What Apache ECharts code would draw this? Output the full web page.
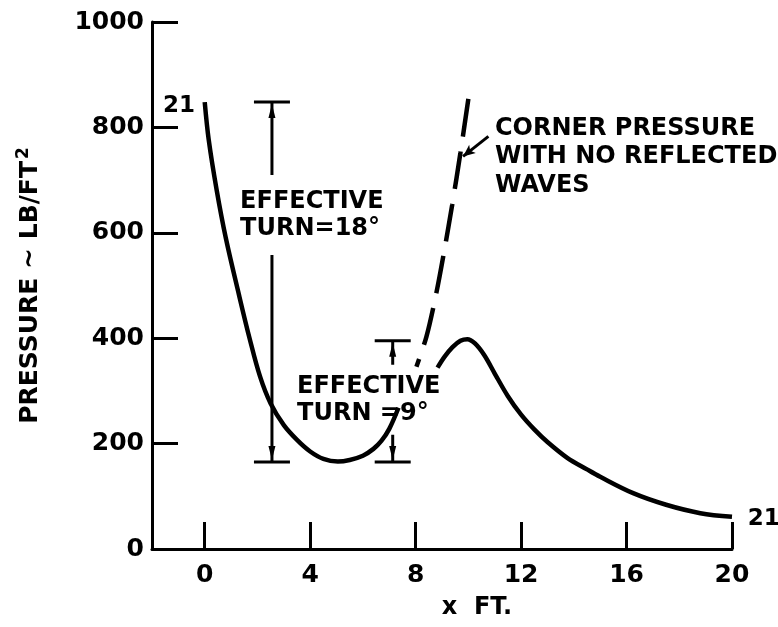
<!DOCTYPE html>
<html>
<head>
<meta charset="utf-8">
<script src="https://cdn.jsdelivr.net/npm/echarts@6/dist/echarts.min.js"></script>
<style>html,body{margin:0;padding:0;background:#fff}#c{width:778px;height:627px}</style>
</head>
<body>
<div id="c"></div>
<script>
// ---- data ----
const xTicks = [0, 4, 8, 12, 16, 20];
const yTicks = [0, 200, 400, 600, 800, 1000];
// measured pressure, first run (x ft, lb/ft^2)
const curveAX = [0, 0.15, 0.45, 0.8, 1.3, 1.7, 2.1, 2.5, 3.0, 3.5, 4.0, 4.5, 5.05, 5.5, 6.0, 6.4, 6.7, 7.0, 7.35];
const curveAY = [848, 777, 682, 590, 482, 400, 327, 276, 235, 207, 185, 171, 166, 169, 177, 190, 205, 228, 268];
// measured pressure, second run
const curveBX = [8.83, 9.1, 9.4, 9.7, 9.96, 10.25, 10.6, 11.0, 11.5, 12.0, 12.5, 13.0, 13.75, 14.5, 15.0, 16.25, 17.5, 18.8, 20];
const curveBY = [344, 365, 383, 395, 398, 390, 368, 333, 290, 255, 227, 203, 173, 151, 137, 106, 84, 68, 61];
// corner pressure with no reflected waves (dashed)
const dashX = [10.0, 9.7, 9.39, 9.1, 8.79, 8.41, 8.03];
const dashY = [854, 752, 654, 570, 487, 403, 346];
// effective turn bars
const barX = [2.55, 7.13];
const barLow = [165, 165];
const barHigh = [848, 395];
const barLabels = ['EFFECTIVE\nTURN=18°', 'EFFECTIVE\nTURN =9°'];
const cornerLabel = 'CORNER PRESSURE\nWITH NO REFLECTED\nWAVES';
const endLabels = ['21', '21'];
const xTitle = 'x  FT.';
const yTitle = 'PRESSURE ~ LB/FT{sup|2}';

// ---- chart ----
const FONT = 'DejaVu Sans';
const pairs = (xs, ys) => xs.map((x, i) => [x, ys[i]]);
const txt = {color: '#000', fontFamily: FONT, fontWeight: 'bold'};
const lbl = (o) => Object.assign({color: '#000', fontFamily: FONT, fontWeight: 'bold', opacity: 1}, o);

const chart = echarts.init(document.getElementById('c'), null, {renderer: 'canvas'});
const option = {
  animation: false,
  backgroundColor: '#fff',
  grid: {left: 152, right: 46, top: 22, bottom: 78},
  xAxis: {
    type: 'value', min: -2, max: 20, interval: 2,
    name: xTitle, nameLocation: 'middle', nameGap: 47,
    nameTextStyle: Object.assign({fontSize: 24, padding: [0, 0, 0, 70]}, txt),
    axisLine: {onZero: false, lineStyle: {color: '#000', width: 3}},
    axisTick: {show: true, inside: true, length: 27, customValues: xTicks, lineStyle: {color: '#000', width: 3}},
    axisLabel: Object.assign({fontSize: 25, margin: 14, customValues: xTicks}, txt),
    splitLine: {show: false}
  },
  yAxis: {
    type: 'value', min: 0, max: 1000, interval: 200,
    name: yTitle, nameLocation: 'middle', nameGap: 107,
    nameTextStyle: Object.assign({fontSize: 25, lineHeight: 30,
      rich: {sup: {fontSize: 17, fontFamily: FONT, fontWeight: 'bold', color: '#000', verticalAlign: 'top', lineHeight: 30, padding: [0, 0, 12, 2]}}}, txt),
    axisLine: {show: true, onZero: false, lineStyle: {color: '#000', width: 3}},
    axisTick: {show: true, inside: true, length: 26, customValues: yTicks.slice(1), lineStyle: {color: '#000', width: 3}},
    axisLabel: Object.assign({fontSize: 25, margin: 8, customValues: yTicks, formatter: (v) => String(v)}, txt),
    splitLine: {show: false}
  },
  series: [
    {
      type: 'custom', z: 2,
      data: barX.map((x, i) => [x, barLow[i], barHigh[i]]),
      renderItem: function (params, api) {
        const x = api.value(0), lo = api.value(1), hi = api.value(2);
        const a = api.coord([x, lo]), b = api.coord([x, hi]);
        const hw = 18;
        const st = {stroke: '#000', lineWidth: 3};
        return {type: 'group', children: [
          {type: 'line', shape: {x1: a[0], y1: a[1], x2: b[0], y2: b[1]}, style: st},
          {type: 'line', shape: {x1: a[0] - hw, y1: a[1], x2: a[0] + hw, y2: a[1]}, style: st},
          {type: 'line', shape: {x1: b[0] - hw, y1: b[1], x2: b[0] + hw, y2: b[1]}, style: st},
          {type: 'polygon', shape: {points: [[b[0], b[1] + 2], [b[0] - 3.5, b[1] + 16], [b[0] + 3.5, b[1] + 16]]}, style: {fill: '#000'}},
          {type: 'polygon', shape: {points: [[a[0], a[1] - 2], [a[0] - 3.5, a[1] - 16], [a[0] + 3.5, a[1] - 16]]}, style: {fill: '#000'}}
        ]};
      }
    },
    {
      type: 'scatter', z: 3, symbolSize: 1, clip: false,
      itemStyle: {color: 'transparent', opacity: 1},
      label: lbl({show: true, position: 'inside', align: 'left', verticalAlign: 'middle', fontSize: 24, lineHeight: 27,
        backgroundColor: '#fff'}),
      data: [
        {value: [1.19, 634], label: lbl({formatter: barLabels[0], padding: [14, 4, 12, 4], backgroundColor: '#fff'})},
        {value: [3.35, 283], label: lbl({formatter: barLabels[1], padding: [7, 4, 9, 4], backgroundColor: '#fff'})},
        {value: [11.01, 744], label: lbl({formatter: cornerLabel, lineHeight: 28.5, backgroundColor: 'transparent', padding: 0})},
        {value: [-0.37, 841], label: lbl({formatter: endLabels[0], align: 'right', backgroundColor: 'transparent', fontSize: 23, padding: 0})},
        {value: [20.6, 57], label: lbl({formatter: endLabels[1], backgroundColor: 'transparent', fontSize: 23, padding: 0})}
      ]
    },
    {
      type: 'line', z: 4, data: pairs(curveAX, curveAY), smooth: 0.35, symbol: 'none',
      lineStyle: {color: '#000', width: 4.5}
    },
    {
      type: 'line', z: 4, data: pairs(curveBX, curveBY), smooth: 0.35, symbol: 'none',
      lineStyle: {color: '#000', width: 4.5}
    },
    {
      type: 'line', z: 4, data: pairs(dashX, dashY), smooth: 0.3, symbol: 'none',
      lineStyle: {color: '#000', width: 4.5, type: [38, 15]},
      markLine: {
        silent: true, symbol: ['none', 'arrow'], symbolSize: [8, 12],
        label: {show: false},
        lineStyle: {color: '#000', width: 3, type: 'solid'},
        data: [[{coord: [10.76, 783]}, {coord: [9.8, 745]}]]
      }
    }
  ]
};
chart.setOption(option);
</script>
</body>
</html>
